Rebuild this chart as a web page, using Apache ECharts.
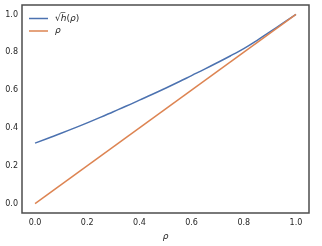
<!DOCTYPE html>
<html><head><meta charset="utf-8">
<script src="https://cdn.jsdelivr.net/npm/echarts@6/dist/echarts.min.js"></script>
<style>html,body{margin:0;padding:0;background:#fff}#c{width:322px;height:246px}</style>
</head><body><div id="c"></div>
<script>
const rho = [0,0.05,0.1,0.15,0.2,0.25,0.3,0.35,0.4,0.45,0.5,0.55,0.6,0.65,0.7,0.75,0.8,0.85,0.9,0.95,1.0];
const sqrtH = [0.320,0.346,0.372,0.399,0.427,0.456,0.486,0.516,0.547,0.578,0.610,0.643,0.677,0.711,0.746,0.782,0.819,0.862,0.908,0.954,1.000];
const rhoLine = [0,1];
const xTicks = [0,0.2,0.4,0.6,0.8,1.0];
const yTicks = [0,0.2,0.4,0.6,0.8,1.0];
const seriesNames = ['sqrth','rho'];

const chart = echarts.init(document.getElementById('c'), null, {renderer:'canvas'});
const font = 'DejaVu Sans';
const txt = '#262626';
chart.setOption({
  animation:false,
  grid:{left:22,right:13,top:5,bottom:26,show:true,borderColor:'#4d4d4d',borderWidth:1.5,backgroundColor:'transparent'},
  legend:{
    left:29,top:14,padding:0,orient:'vertical',itemWidth:19,itemHeight:1.5,itemGap:3.5,
    icon:'rect',
    data:seriesNames,
    formatter:function(n){return n==='sqrth' ? '{r|√}{o|h\u0305}{t|(}{i|ρ}{t|)}' : '{i|ρ}';},
    textStyle:{fontFamily:font,fontSize:8,color:txt,padding:[0,0,0,2],rich:{
      r:{fontFamily:font,fontSize:9,color:txt,height:12},
      o:{fontFamily:font,fontSize:9,fontStyle:'italic',color:txt,height:12},
      t:{fontFamily:font,fontSize:9,color:txt,height:12},
      i:{fontFamily:font,fontSize:9,fontStyle:'italic',color:txt,height:12}
    }}
  },
  xAxis:{type:'value',min:-0.05,max:1.05,
    name:'ρ',nameLocation:'middle',nameGap:16,
    nameTextStyle:{fontFamily:font,fontSize:9,fontStyle:'italic',color:txt},
    axisLine:{show:false},axisTick:{show:false},splitLine:{show:false},
    axisLabel:{customValues:xTicks,fontFamily:font,fontSize:8,color:txt,margin:6,
      formatter:v=>v.toFixed(1)}
  },
  yAxis:{type:'value',min:-0.05,max:1.05,
    axisLine:{show:false},axisTick:{show:false},splitLine:{show:false},
    axisLabel:{customValues:yTicks,fontFamily:font,fontSize:8,color:txt,margin:4,
      formatter:v=>v.toFixed(1)}
  },
  series:[
    {name:'sqrth',type:'line',smooth:true,symbol:'none',
      data:rho.map((r,i)=>[r,sqrtH[i]]),lineStyle:{color:'#4c72b0',width:1.5},itemStyle:{color:'#4c72b0'}},
    {name:'rho',type:'line',symbol:'none',
      data:rhoLine.map(r=>[r,r]),lineStyle:{color:'#dd8452',width:1.5},itemStyle:{color:'#dd8452'}}
  ]
});
</script></body></html>
